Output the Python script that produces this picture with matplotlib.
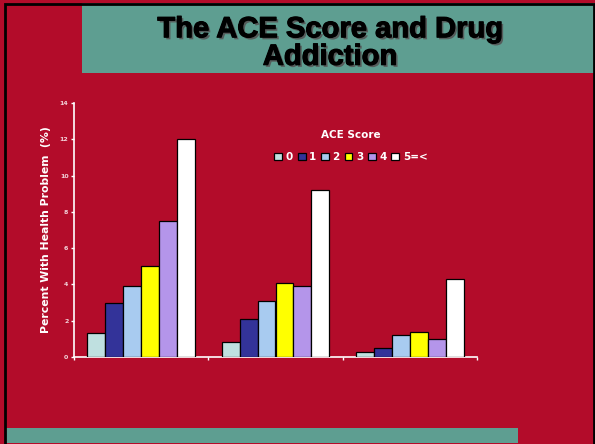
import matplotlib.pyplot as plt
import matplotlib.patheffects as pe
import numpy as np
from matplotlib.patches import Rectangle

# data
groups = ['A', 'B', 'C']
ace_labels = ['0', '1', '2', '3', '4', '5=<']
score_0 = [1.3, 0.8, 0.3]
score_1 = [3.0, 2.1, 0.5]
score_2 = [3.9, 3.1, 1.2]
score_3 = [5.0, 4.1, 1.4]
score_4 = [7.5, 3.9, 1.0]
score_5 = [12.0, 9.2, 4.3]
y_ticks = [0, 2, 4, 6, 8, 10, 12, 14]

series = [score_0, score_1, score_2, score_3, score_4, score_5]
colors = ['#BFE0E0', '#333399', '#A8CBF0', '#FFFF00', '#B495EA', '#FFFFFF']

RED = '#B30C2A'
TEAL = '#5E9E91'

fig = plt.figure(figsize=(5.95, 4.44), dpi=100)
fig.patch.set_facecolor(RED)

W, H = 595, 444

def box(x0, y0, x1, y1, **kw):
    # pixel box, y measured from top
    fig.patches.append(Rectangle((x0 / W, 1 - y1 / H), (x1 - x0) / W, (y1 - y0) / H,
                                 transform=fig.transFigure, figure=fig, **kw))

# title banner, bottom strip and slide frame
box(82, 3, 595, 73, facecolor=TEAL, edgecolor='none', zorder=0)
box(6, 428, 518, 443, facecolor=TEAL, edgecolor='none', zorder=0)
box(4.5, 4.5, 593.5, 446, facecolor='none', edgecolor='black', linewidth=2, zorder=1)

title = 'The ACE Score and Drug\nAddiction'
fig.text(330 / W, 1 - 43 / H, title, ha='center', va='center', fontsize=21,
         fontweight='bold', color='black', linespacing=0.98, family='Liberation Sans',
         path_effects=[pe.SimplePatchShadow(offset=(1.5, -1.5), shadow_rgbFace='#555555', alpha=0.9),
                       pe.Stroke(linewidth=0.8, foreground='black'), pe.Normal()])

ax = fig.add_axes([74 / W, 1 - 357 / H, 403 / W, 254 / H])
ax.set_facecolor('none')

x = np.arange(len(groups))
bw = 0.8 / len(series)
for i, (vals, c) in enumerate(zip(series, colors)):
    ax.bar(x - 0.4 + bw * (i + 0.5), vals, width=bw, color=c, edgecolor='black',
           linewidth=0.9, label=ace_labels[i], zorder=3)

ax.set_xlim(-0.5, 2.5)
ax.set_ylim(0, 14)
ax.set_yticks(y_ticks)
ax.set_yticklabels([str(t) for t in y_ticks], fontsize=4.5, fontweight='bold', color='#F2D4DA')
ax.set_xticks([-0.5, 0.5, 1.5, 2.5])
ax.set_xticklabels([])
ax.tick_params(axis='y', colors='white', length=2, width=1, pad=2, labelcolor='#F2D4DA')
ax.tick_params(axis='x', colors='white', length=2, width=1)
for s in ['top', 'right']:
    ax.spines[s].set_visible(False)
for s in ['left', 'bottom']:
    ax.spines[s].set_color('white')
    ax.spines[s].set_linewidth(1.2)

ax.set_ylabel('Percent With Health Problem  (%)', fontsize=7.8, fontweight='bold',
              color='white', labelpad=6)

leg = fig.legend(loc='center', bbox_to_anchor=(351 / W, 1 - 146 / H), ncol=6,
                 frameon=False, handlelength=0.75, handleheight=0.75, handletextpad=0.35,
                 columnspacing=0.45, prop={'size': 7.5, 'weight': 'bold'},
                 title='ACE Score', title_fontproperties={'size': 7.5, 'weight': 'bold'})
leg.get_title().set_color('white')
leg._legend_box.sep = 9
for t in leg.get_texts():
    t.set_color('white')

plt.savefig('out.png', dpi=100, facecolor=RED)
